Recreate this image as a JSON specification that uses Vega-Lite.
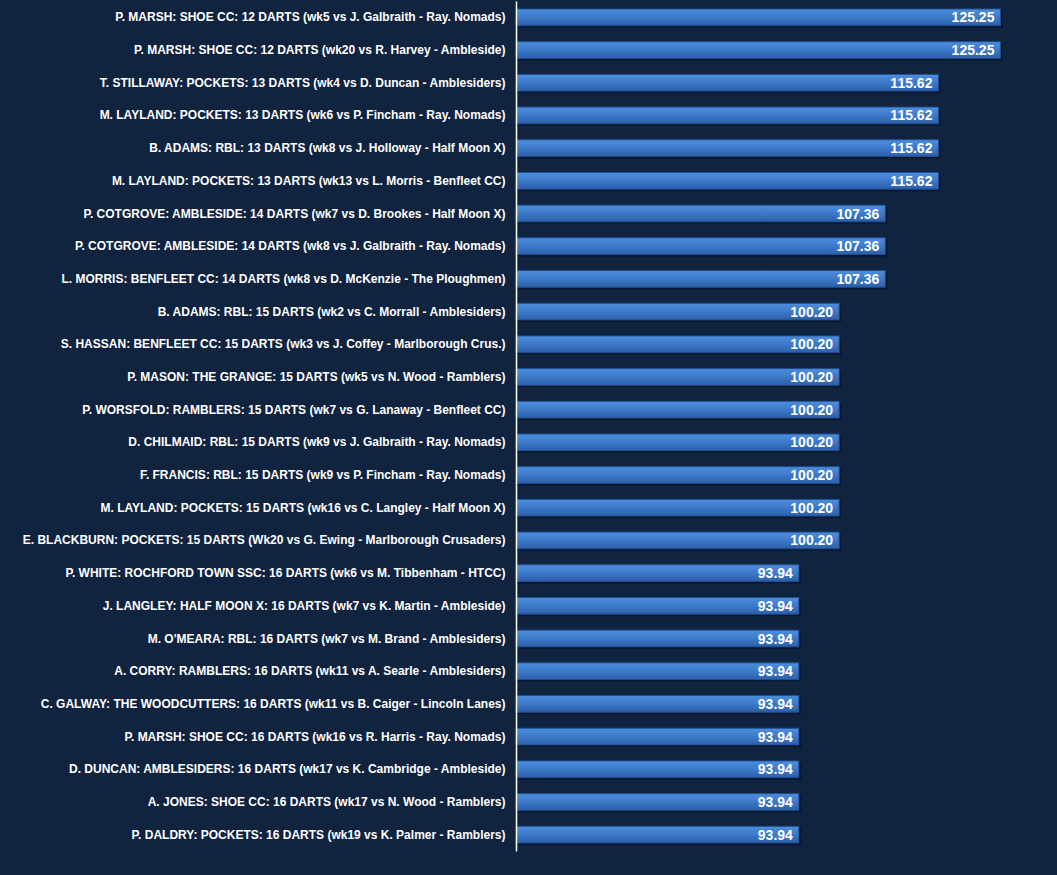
{
  "$schema": "https://vega.github.io/schema/vega-lite/v6.json",
  "width": 515,
  "height": 850,
  "autosize": "none",
  "padding": {"left": 516, "top": 1, "right": 26, "bottom": 24},
  "background": "#10233f",
  "config": {
    "view": {"stroke": null},
    "font": "Liberation Sans"
  },
  "data": {
    "values": [
      {"label": "P. MARSH: SHOE CC: 12 DARTS (wk5 vs J. Galbraith - Ray. Nomads)", "value": 125.25, "order": 1},
      {"label": "P. MARSH: SHOE CC: 12 DARTS (wk20 vs R. Harvey - Ambleside)", "value": 125.25, "order": 2},
      {"label": "T. STILLAWAY: POCKETS: 13 DARTS (wk4 vs D. Duncan - Amblesiders)", "value": 115.62, "order": 3},
      {"label": "M. LAYLAND: POCKETS: 13 DARTS (wk6 vs P. Fincham - Ray. Nomads)", "value": 115.62, "order": 4},
      {"label": "B. ADAMS: RBL: 13 DARTS (wk8 vs J. Holloway - Half Moon X)", "value": 115.62, "order": 5},
      {"label": "M. LAYLAND: POCKETS: 13 DARTS (wk13 vs L. Morris - Benfleet CC)", "value": 115.62, "order": 6},
      {"label": "P. COTGROVE: AMBLESIDE: 14 DARTS (wk7 vs D. Brookes - Half Moon X)", "value": 107.36, "order": 7},
      {"label": "P. COTGROVE: AMBLESIDE: 14 DARTS (wk8 vs J. Galbraith - Ray. Nomads)", "value": 107.36, "order": 8},
      {"label": "L. MORRIS: BENFLEET CC: 14 DARTS (wk8 vs D. McKenzie - The Ploughmen)", "value": 107.36, "order": 9},
      {"label": "B. ADAMS: RBL: 15 DARTS (wk2 vs C. Morrall - Amblesiders)", "value": 100.20, "order": 10},
      {"label": "S. HASSAN: BENFLEET CC: 15 DARTS (wk3 vs J. Coffey - Marlborough Crus.)", "value": 100.20, "order": 11},
      {"label": "P. MASON: THE GRANGE: 15 DARTS (wk5 vs N. Wood - Ramblers)", "value": 100.20, "order": 12},
      {"label": "P. WORSFOLD: RAMBLERS: 15 DARTS (wk7 vs G. Lanaway - Benfleet CC)", "value": 100.20, "order": 13},
      {"label": "D. CHILMAID: RBL: 15 DARTS (wk9 vs J. Galbraith - Ray. Nomads)", "value": 100.20, "order": 14},
      {"label": "F. FRANCIS: RBL: 15 DARTS (wk9 vs P. Fincham - Ray. Nomads)", "value": 100.20, "order": 15},
      {"label": "M. LAYLAND: POCKETS: 15 DARTS (wk16 vs C. Langley - Half Moon X)", "value": 100.20, "order": 16},
      {"label": "E. BLACKBURN: POCKETS: 15 DARTS (Wk20 vs G. Ewing - Marlborough Crusaders)", "value": 100.20, "order": 17},
      {"label": "P. WHITE: ROCHFORD TOWN SSC: 16 DARTS (wk6 vs M. Tibbenham - HTCC)", "value": 93.94, "order": 18},
      {"label": "J. LANGLEY: HALF MOON X: 16 DARTS (wk7 vs K. Martin - Ambleside)", "value": 93.94, "order": 19},
      {"label": "M. O'MEARA: RBL: 16 DARTS (wk7 vs M. Brand - Amblesiders)", "value": 93.94, "order": 20},
      {"label": "A. CORRY: RAMBLERS: 16 DARTS (wk11 vs A. Searle - Amblesiders)", "value": 93.94, "order": 21},
      {"label": "C. GALWAY: THE WOODCUTTERS: 16 DARTS (wk11 vs B. Caiger - Lincoln Lanes)", "value": 93.94, "order": 22},
      {"label": "P. MARSH: SHOE CC: 16 DARTS (wk16 vs R. Harris - Ray. Nomads)", "value": 93.94, "order": 23},
      {"label": "D. DUNCAN: AMBLESIDERS: 16 DARTS (wk17 vs K. Cambridge - Ambleside)", "value": 93.94, "order": 24},
      {"label": "A. JONES: SHOE CC: 16 DARTS (wk17 vs N. Wood - Ramblers)", "value": 93.94, "order": 25},
      {"label": "P. DALDRY: POCKETS: 16 DARTS (wk19 vs K. Palmer - Ramblers)", "value": 93.94, "order": 26}
    ]
  },
  "encoding": {
    "y": {
      "field": "label",
      "type": "nominal",
      "sort": {"field": "order", "order": "ascending"},
      "scale": {"paddingInner": 0.49, "paddingOuter": 0.245},
      "axis": {
        "title": null,
        "ticks": false,
        "labelColor": "#ffffff",
        "labelFont": "Liberation Sans",
        "labelFontWeight": "bold",
        "labelFontSize": 12,
        "labelPadding": 11,
        "labelLimit": 600,
        "domainColor": "#ffffff",
        "domainWidth": 1.5,
        "grid": false,
        "zindex": 1
      }
    },
    "x": {
      "field": "value",
      "type": "quantitative",
      "scale": {"domain": [50, 130], "zero": false},
      "axis": null
    }
  },
  "layer": [
    {
      "mark": {"type": "bar", "color": "#071326", "opacity": 0.8, "xOffset": 2, "yOffset": 2},
      "encoding": {"x2": {"datum": 50}}
    },
    {
      "mark": {
        "type": "bar",
        "stroke": "#1f4f93",
        "strokeWidth": 1,
        "color": {
          "gradient": "linear",
          "x1": 0, "y1": 0, "x2": 0, "y2": 1,
          "stops": [
            {"offset": 0, "color": "#4d8fdd"},
            {"offset": 0.5, "color": "#3d79c8"},
            {"offset": 1, "color": "#2c5fa9"}
          ]
        }
      },
      "encoding": {"x2": {"datum": 50}}
    },
    {
      "mark": {
        "type": "text",
        "align": "right",
        "baseline": "middle",
        "dx": -6,
        "dy": 1,
        "color": "#ffffff",
        "font": "Liberation Sans",
        "fontWeight": "bold",
        "fontSize": 14
      },
      "encoding": {
        "text": {"field": "value", "type": "quantitative", "format": ".2f"}
      }
    }
  ]
}
